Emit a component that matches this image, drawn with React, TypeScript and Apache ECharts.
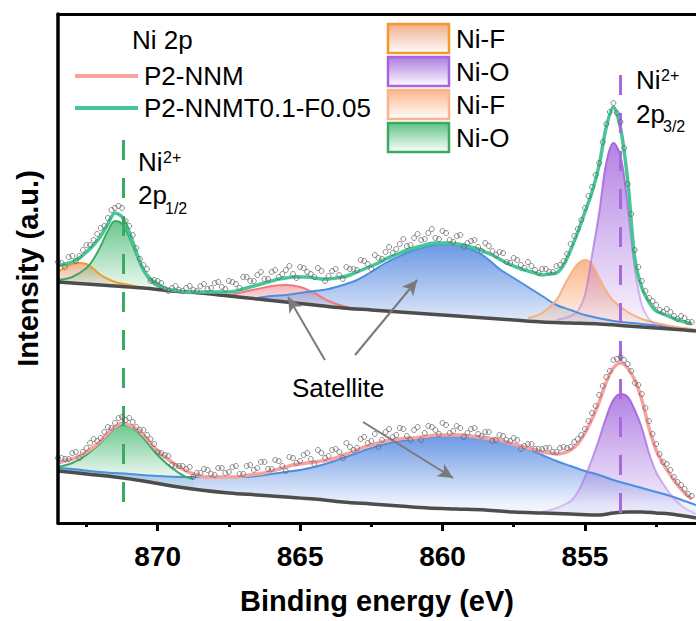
import React, { useEffect, useRef } from "react";
import * as echarts from "echarts";

const FONT = "'Liberation Sans', Arial, Helvetica, sans-serif";

// ---- axes ----
const energyMin = 851.1;
const energyMax = 873.5;
const majorTicks = [855, 860, 865, 870];
const minorTicks = [852.5, 857.5, 862.5, 867.5, 872.5];
const intensityMax = 509;

// ---- measured scan (binding energy, eV) ----
const scanEnergy = [
  873.5, 873.25, 873, 872.75, 872.5, 872.25, 872, 871.75, 871.5, 871.25,
  871, 870.75, 870.5, 870.25, 870, 869.75, 869.5, 869.25, 869, 868.75,
  868.5, 868.25, 868, 867.75, 867.5, 867.25, 867, 866.75, 866.5, 866.25,
  866, 865.75, 865.5, 865.25, 865, 864.75, 864.5, 864.25, 864, 863.75,
  863.5, 863.25, 863, 862.75, 862.5, 862.25, 862, 861.75, 861.5, 861.25,
  861, 860.75, 860.5, 860.25, 860, 859.75, 859.5, 859.25, 859, 858.75,
  858.5, 858.25, 858, 857.75, 857.5, 857.25, 857, 856.75, 856.5, 856.25,
  856, 855.75, 855.5, 855.25, 855, 854.75, 854.5, 854.25, 854, 853.75,
  853.5, 853.25, 853, 852.75, 852.5, 852.25, 852, 851.75, 851.5, 851.25,
];
// interleaved scan points
const scanEnergyMid = [
  873.375, 873.125, 872.875, 872.625, 872.375, 872.125, 871.875, 871.625, 871.375, 871.125,
  870.875, 870.625, 870.375, 870.125, 869.875, 869.625, 869.375, 869.125, 868.875, 868.625,
  868.375, 868.125, 867.875, 867.625, 867.375, 867.125, 866.875, 866.625, 866.375, 866.125,
  865.875, 865.625, 865.375, 865.125, 864.875, 864.625, 864.375, 864.125, 863.875, 863.625,
  863.375, 863.125, 862.875, 862.625, 862.375, 862.125, 861.875, 861.625, 861.375, 861.125,
  860.875, 860.625, 860.375, 860.125, 859.875, 859.625, 859.375, 859.125, 858.875, 858.625,
  858.375, 858.125, 857.875, 857.625, 857.375, 857.125, 856.875, 856.625, 856.375, 856.125,
  855.875, 855.625, 855.375, 855.125, 854.875, 854.625, 854.375, 854.125, 853.875, 853.625,
  853.375, 853.125, 852.875, 852.625, 852.375, 852.125, 851.875, 851.625, 851.375,
];

// P2-NNMT0.1-F0.05 (upper spectrum, offset)
const topCounts = [
  261, 256, 267, 267, 278, 283, 295, 305, 315, 315,
  297, 275, 258, 242, 242, 234, 235, 233, 235, 233,
  237, 234, 240, 236, 242, 239, 246, 242, 248, 244,
  251, 246, 253, 249, 256, 251, 246, 252, 247, 254,
  244, 254, 253, 262, 254, 265, 271, 270, 279, 277,
  285, 283, 290, 285, 292, 283, 287, 276, 282, 276,
  280, 272, 271, 261, 265, 258, 261, 253, 254, 251,
  257, 262, 279, 294, 315, 336, 360, 399, 420, 401,
  339, 273, 242, 225, 218, 211, 211, 204, 205, 201,
];
const topCountsMid = [
  260, 266, 262, 273, 278, 289, 297, 313, 317, 302,
  288, 264, 254, 243, 240, 232, 237, 232, 237, 232,
  239, 235, 241, 234, 241, 235, 246, 242, 251, 244,
  253, 249, 257, 245, 255, 249, 255, 242, 252, 248,
  256, 254, 263, 259, 268, 264, 276, 274, 284, 278,
  289, 284, 294, 284, 290, 281, 288, 280, 283, 272,
  277, 268, 270, 260, 263, 255, 257, 250, 254, 251,
  258, 269, 287, 303, 327, 348, 381, 411, 410, 375,
  309, 256, 232, 222, 213, 214, 207, 207, 201,
];
const topFit = [
  257, 259, 261, 265, 271, 278, 287, 299, 310, 306,
  291, 271, 253, 244, 239, 235, 233, 232, 231, 231,
  231, 231, 231, 231, 231, 232, 234, 236, 238, 240,
  242, 244, 245, 246, 246, 246, 245, 244, 244, 245,
  246, 248, 251, 254, 257, 260, 264, 267, 270, 273,
  275, 277, 279, 280, 280, 280, 279, 278, 276, 274,
  271, 268, 264, 260, 257, 254, 252, 250, 248, 249,
  250, 258, 273, 291, 311, 331, 358, 396, 416, 395,
  343, 265, 235, 221, 212, 209, 206, 203, 201, 199,
];
const topBackground: [number, number][] = [
  [873.5, 241], [872.5, 239], [871.5, 237], [870.5, 235], [869.5, 232], [868.5, 230],
  [867.5, 227], [866.5, 224], [865.5, 221], [864.5, 218], [863.5, 215], [862.5, 213],
  [861.5, 211], [860.5, 209], [859.5, 207], [858.5, 205], [857.5, 203], [856.5, 201],
  [855.5, 200], [854.5, 199], [853.5, 197], [852.5, 195], [851.5, 193], [851.1, 192],
];
const topNiF1: [number, number][] = [
  [873.5, 251], [873.25, 256], [873, 259], [872.75, 260], [872.5, 259], [872.25, 254],
  [872, 248], [871.75, 244], [871.5, 241], [871, 238], [870.5, 235],
];
const topNiO1: [number, number][] = [
  [873.5, 243], [873, 246], [872.5, 255], [872.25, 264], [872, 277], [871.75, 292],
  [871.5, 302], [871.25, 299], [871, 286], [870.75, 268], [870.5, 252], [870.25, 242],
  [870, 237], [869.5, 232],
];
const topSat1: [number, number][] = [
  [868, 229], [867.5, 228], [867, 231], [866.5, 234], [866, 237], [865.5, 238],
  [865, 236], [864.5, 230], [864, 222], [863.5, 217], [863, 214],
];
const topSat2: [number, number][] = [
  [866.5, 225], [866, 227], [865.5, 228], [865, 230], [864.5, 232], [864, 234],
  [863.5, 238], [863, 243], [862.5, 251], [862, 260], [861.5, 267], [861, 273],
  [860.5, 277], [860, 279], [859.5, 278], [859, 274], [858.5, 266], [858, 254],
  [857.5, 245], [857, 236], [856.5, 227], [856, 218], [855.5, 213], [855, 208],
  [854, 202], [853, 199], [852, 196], [851.1, 193],
];
const topNiF2: [number, number][] = [
  [857, 205], [856.5, 210], [856, 223], [855.75, 236], [855.5, 249], [855.25, 259],
  [855, 263], [854.75, 259], [854.5, 245], [854.25, 232], [854, 222], [853.5, 211],
  [853, 204], [852.5, 200], [852, 197], [851.5, 195], [851.1, 193],
];
const topNiO2: [number, number][] = [
  [856, 203], [855.5, 207], [855.25, 212], [855, 228], [854.75, 268], [854.5, 310],
  [854.25, 360], [854, 380], [853.75, 367], [853.5, 318], [853.25, 255], [853, 218],
  [852.75, 204], [852.5, 198], [852, 196],
];

// P2-NNM (lower spectrum)
const bottomCounts = [
  65, 64, 70, 65, 75, 84, 85, 96, 100, 106,
  105, 96, 93, 84, 71, 68, 58, 57, 54, 46,
  50, 53, 48, 55, 51, 57, 49, 58, 55, 61,
  54, 62, 52, 65, 62, 70, 59, 70, 67, 74,
  65, 76, 75, 86, 82, 76, 91, 86, 95, 87,
  93, 83, 97, 93, 100, 90, 97, 86, 94, 89,
  91, 82, 88, 83, 85, 74, 79, 74, 74, 75,
  71, 76, 76, 84, 94, 110, 128, 146, 163, 166,
  159, 140, 129, 102, 79, 61, 53, 41, 34, 27,
];
const bottomCountsMid = [
  65, 64, 71, 71, 80, 82, 91, 95, 105, 103,
  101, 93, 88, 79, 70, 67, 57, 57, 56, 50,
  54, 49, 55, 50, 56, 49, 57, 53, 61, 54,
  63, 57, 66, 60, 68, 64, 73, 65, 73, 71,
  80, 73, 84, 80, 89, 83, 94, 88, 94, 83,
  96, 90, 96, 89, 98, 92, 95, 90, 95, 87,
  91, 83, 87, 82, 83, 77, 79, 74, 75, 71,
  75, 75, 81, 88, 102, 117, 137, 152, 164, 163,
  152, 138, 115, 89, 69, 59, 46, 38, 29,
];
const bottomFit = [
  60, 62, 64, 67, 71, 76, 82, 90, 96, 100,
  98, 94, 88, 80, 72, 66, 61, 56, 52, 49,
  47, 46, 46, 46, 46, 46, 47, 48, 49, 50,
  52, 54, 56, 58, 59, 60, 61, 62, 63, 65,
  68, 70, 73, 76, 78, 80, 82, 83, 84, 85,
  85, 86, 87, 88, 88, 88, 88, 88, 87, 86,
  85, 84, 83, 81, 79, 77, 75, 73, 71, 70,
  69, 70, 73, 79, 90, 104, 121, 141, 155, 160,
  155, 143, 123, 95, 73, 59, 48, 38, 30, 24,
];
const bottomBackground: [number, number][] = [
  [873.5, 52], [872.5, 49], [871.5, 46], [870.5, 42], [869.5, 37], [868.5, 33],
  [867.5, 30], [866.5, 28], [865.5, 26], [864.5, 24], [863.5, 21], [862.5, 19],
  [861.5, 17], [860.5, 15], [859.5, 14], [858.5, 13], [857.5, 11], [856.5, 10],
  [855.5, 9], [854.5, 8], [854, 10], [853.5, 11], [853, 11], [852.5, 10],
  [852, 9], [851.5, 7], [851.1, 5],
];
const bottomSat: [number, number][] = [
  [873.5, 55], [873, 54], [872, 51], [871, 49], [870, 47], [869, 46], [868, 46],
  [867, 46], [866.5, 47], [866, 49], [865.5, 51], [865, 53], [864.5, 56], [864, 60],
  [863.5, 65], [863, 70], [862.5, 75], [862, 79], [861.5, 82], [861, 84], [860.5, 86],
  [860, 87], [859.5, 88], [859, 87], [858.5, 86], [858, 83], [857.5, 79], [857, 74],
  [856.5, 68], [856, 62], [855.5, 57], [855, 52], [854.5, 48], [854, 43], [853.5, 39],
  [853, 35], [852.5, 31], [852, 27], [851.5, 22], [851.1, 18],
];
const bottomNiO1: [number, number][] = [
  [873.5, 56], [873, 60], [872.5, 68], [872.25, 74], [872, 80], [871.75, 88],
  [871.5, 95], [871.25, 98], [871, 97], [870.75, 92], [870.5, 85], [870.25, 76],
  [870, 68], [869.75, 61], [869.5, 55], [869.25, 50], [869, 46], [868.75, 44],
];
const bottomNiO2: [number, number][] = [
  [856.5, 11], [856, 15], [855.5, 22], [855.25, 31], [855, 46], [854.75, 64], [854.5, 84],
  [854.25, 106], [854, 123], [853.75, 129], [853.5, 126], [853.25, 113], [853, 95],
  [852.75, 70], [852.5, 51], [852.25, 39], [852, 29], [851.75, 21], [851.5, 15],
  [851.1, 9],
];

// ---- reference positions (eV) ----
const ni2p12 = 871.22;
const ni2p32 = 853.77;

// ---- layout ----
const W = 696;
const H = 621;
const GRID = { left: 58, right: 0, top: 14, bottom: 98 };

const pixelY = (v: number) =>
  GRID.top + (1 - v / intensityMax) * (H - GRID.top - GRID.bottom);

function vertical(rgb: string, a0: number, a1: number, pts: [number, number][]) {
  const vals = pts.map((p) => p[1]);
  const top = Math.max(...vals);
  const base = Math.min(...vals);
  return new echarts.graphic.LinearGradient(
    0, pixelY(top), 0, pixelY(base),
    [
      { offset: 0, color: `rgba(${rgb},${a0})` },
      { offset: 1, color: `rgba(${rgb},${a1})` },
    ],
    true
  );
}

function component(
  pts: [number, number][],
  strokeRgb: string,
  rgb: string,
  a0: number,
  a1: number,
  strokeFade = 1
) {
  return {
    type: "line",
    z: 3,
    data: pts,
    smooth: 0.35,
    symbol: "none",
    silent: true,
    lineStyle: { color: vertical(strokeRgb, 1, strokeFade, pts), width: 2 },
    areaStyle: { color: vertical(rgb, a0, a1, pts), opacity: 1, origin: "start" },
  };
}

function baseline(pts: [number, number][]) {
  return {
    type: "line",
    z: 3,
    data: pts,
    smooth: 0.35,
    symbol: "none",
    silent: true,
    lineStyle: { color: "#4d4d4d", width: 3.5 },
    areaStyle: { color: "#ffffff", opacity: 1, origin: "start" },
  };
}

function fitLine(vals: number[], color: string) {
  return {
    type: "line",
    z: 4,
    data: scanEnergy.map((e, i) => [e, vals[i]]),
    smooth: 0.3,
    symbol: "none",
    silent: true,
    lineStyle: { color, width: 3.5 },
  };
}

function points(vals: number[], midVals: number[]) {
  return {
    type: "scatter",
    z: 5,
    data: [
      ...scanEnergy.map((e, i) => [e, vals[i]]),
      ...scanEnergyMid.map((e, i) => [e, midVals[i]]),
    ],
    symbol: "circle",
    symbolSize: 5,
    silent: true,
    itemStyle: { color: "rgba(255,255,255,0)", borderColor: "#606060", borderWidth: 0.9 },
  };
}

function label(text: string, x: number, y: number, size = 26) {
  return {
    type: "text",
    x,
    y,
    z: 100,
    silent: true,
    style: {
      text,
      fill: "#000",
      fontSize: size,
      fontFamily: FONT,
      align: "left",
      verticalAlign: "middle",
      textAlign: "left",
      textVerticalAlign: "middle",
    },
  };
}

function legendBox(y: number, stroke: string, rgb: string) {
  return {
    type: "rect",
    z: 100,
    silent: true,
    shape: { x: 388, y, width: 61, height: 29 },
    style: {
      fill: new echarts.graphic.LinearGradient(0, 0, 0, 1, [
        { offset: 0, color: `rgba(${rgb},0.85)` },
        { offset: 1, color: `rgba(${rgb},0.02)` },
      ]),
      stroke,
      lineWidth: 2.5,
    },
  };
}

function buildOption() {
  const axisFont = { fontSize: 29, fontWeight: "bold", fontFamily: FONT, color: "#000" };
  const arrowStyle = { color: "#7a7a7a", width: 2, type: "solid" };
  const arrow = (from: [number, number], to: [number, number]) => [
    { coord: from, symbol: "none", lineStyle: arrowStyle },
    { coord: to, symbol: "arrow", symbolSize: [11, 15] },
  ];
  const lastPoints: any = points(bottomCounts, bottomCountsMid);
  lastPoints.markLine = {
    silent: true,
    animation: false,
    label: { show: false },
    symbol: ["none", "none"],
    data: [
      [
        { coord: [ni2p12, 383], lineStyle: { color: "#3BAA62", width: 3, type: [20, 18] } },
        { coord: [ni2p12, 13] },
      ],
      [
        { coord: [ni2p32, 448], lineStyle: { color: "#A868DE", width: 3, type: [20, 18] } },
        { coord: [ni2p32, 8] },
      ],
      arrow([864.13, 163], [865.42, 226]),
      arrow([863.07, 168], [860.89, 243]),
      arrow([862.79, 101], [859.63, 45]),
    ],
  };

  return {
    animation: false,
    backgroundColor: "#ffffff",
    grid: { ...GRID },
    xAxis: [
      {
        type: "value",
        min: energyMin,
        max: energyMax,
        inverse: true,
        position: "bottom",
        z: 10,
        axisLine: { show: true, lineStyle: { color: "#000", width: 3 } },
        axisTick: { show: true, customValues: majorTicks, length: 8, lineStyle: { color: "#000", width: 3 } },
        axisLabel: {
          show: true,
          customValues: majorTicks,
          margin: 19,
          fontSize: 28,
          fontWeight: "bold",
          fontFamily: FONT,
          color: "#000",
        },
        splitLine: { show: false },
        name: "Binding energy (eV)",
        nameLocation: "middle",
        nameGap: 63,
        nameTextStyle: axisFont,
      },
      {
        type: "value",
        min: energyMin,
        max: energyMax,
        inverse: true,
        position: "bottom",
        z: 10,
        axisLine: { show: false },
        axisTick: { show: true, customValues: minorTicks, length: 4, lineStyle: { color: "#000", width: 3 } },
        axisLabel: { show: false },
        splitLine: { show: false },
      },
      {
        type: "value",
        min: energyMin,
        max: energyMax,
        inverse: true,
        position: "top",
        z: 10,
        axisLine: { show: true, lineStyle: { color: "#000", width: 3 } },
        axisTick: { show: false },
        axisLabel: { show: false },
        splitLine: { show: false },
      },
    ],
    yAxis: {
      type: "value",
      min: 0,
      max: intensityMax,
      z: 10,
      axisLine: { show: true, lineStyle: { color: "#000", width: 3.5 } },
      axisTick: { show: false },
      axisLabel: { show: false },
      splitLine: { show: false },
      name: "Intensity (a.u.)",
      nameLocation: "middle",
      nameGap: 16,
      nameTextStyle: axisFont,
    },
    series: [
      // upper spectrum components
      component(topNiF1, "243,154,43", "236,160,120", 0.8, 0.08),
      component(topNiO1, "59,170,98", "70,185,115", 0.8, 0.08),
      component(topSat1, "240,122,128", "240,140,145", 0.65, 0.08),
      component(topSat2, "74,143,224", "90,140,225", 0.9, 0.1),
      component(topNiF2, "249,176,128", "250,165,110", 0.8, 0.08),
      component(topNiO2, "165,102,221", "160,100,220", 0.8, 0.06, 0.35),
      baseline(topBackground),
      // lower spectrum components
      component(bottomSat, "74,143,224", "90,140,225", 0.9, 0.1),
      component(bottomNiO1, "59,170,98", "70,185,115", 0.8, 0.08),
      component(bottomNiO2, "165,102,221", "160,100,220", 0.8, 0.06, 0.3),
      baseline(bottomBackground),
      // envelopes and measured points
      fitLine(topFit, "#46C597"),
      fitLine(bottomFit, "#F7A1A1"),
      points(topCounts, topCountsMid),
      lastPoints,
    ],
    graphic: {
      elements: [
        label("Ni 2p", 132, 40),
        { type: "line", z: 100, silent: true, shape: { x1: 75, y1: 76, x2: 138, y2: 76 }, style: { stroke: "#F7A1A1", lineWidth: 4 } },
        label("P2-NNM", 144, 76),
        { type: "line", z: 100, silent: true, shape: { x1: 75, y1: 108, x2: 138, y2: 108 }, style: { stroke: "#46C597", lineWidth: 4 } },
        label("P2-NNMT0.1-F0.05", 144, 108),
        legendBox(24, "#F39A2B", "236,160,120"),
        legendBox(57, "#A566DD", "160,100,220"),
        legendBox(90, "#F9B58A", "250,170,120"),
        legendBox(123, "#3BAA62", "70,185,115"),
        label("Ni-F", 456, 39),
        label("Ni-O", 456, 72),
        label("Ni-F", 456, 105),
        label("Ni-O", 456, 138),
        label("Ni", 138, 162),
        label("2+", 163, 157, 16),
        label("2p", 138, 195),
        label("1/2", 165, 208, 16),
        label("Ni", 636, 80),
        label("2+", 661, 75, 16),
        label("2p", 636, 114),
        label("3/2", 663, 126, 16),
        label("Satellite", 292, 388),
      ],
    },
  };
}

export default function App() {
  const ref = useRef<HTMLDivElement>(null);
  useEffect(() => {
    if (!ref.current) return;
    const chart = echarts.init(ref.current, undefined, { renderer: "svg" });
    chart.setOption(buildOption() as any);
    return () => chart.dispose();
  }, []);
  return (
    <div
      ref={ref}
      style={{ position: "fixed", left: 0, top: 0, width: W, height: H, background: "#fff" }}
    />
  );
}
